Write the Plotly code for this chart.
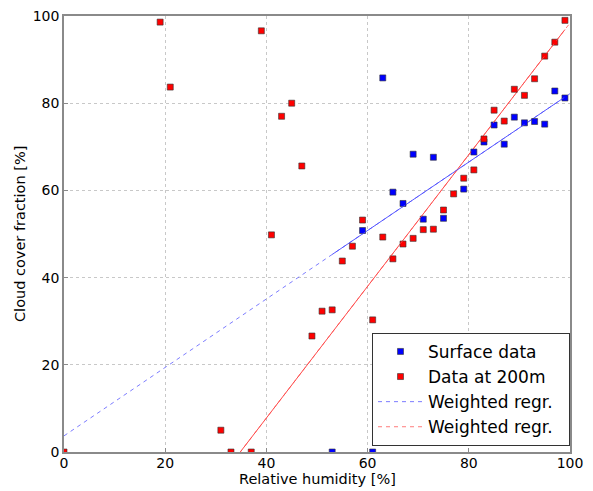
import plotly.graph_objects as go

# Surface data
surf_x = [53, 59, 61, 63, 65, 67, 69, 71, 73, 75, 79, 81, 83, 85, 87, 89, 91, 93, 95, 97, 99]
surf_y = [0, 50.8, 0, 85.8, 59.6, 57.0, 68.3, 53.4, 67.6, 53.6, 60.3, 68.8, 71.1, 75.0, 70.6, 76.8, 75.5, 75.8, 75.2, 82.8, 81.2]

# Data at 200 m
h200_x = [0, 19, 21, 31, 33, 37, 39, 41, 43, 45, 47, 49, 51, 53, 55, 57, 59, 61, 63, 65, 67,
          69, 71, 73, 75, 77, 79, 81, 83, 85, 87, 89, 91, 93, 95, 97, 99]
h200_y = [0, 98.6, 83.7, 5.0, 0, 0, 96.6, 49.8, 77.0, 80.0, 65.6, 26.6, 32.3, 32.6, 43.8, 47.2, 53.2, 30.3, 49.3, 44.3, 47.7,
          49.0, 51.0, 51.1, 55.5, 59.2, 62.8, 64.7, 71.8, 78.4, 75.9, 83.2, 81.8, 85.6, 90.8, 94.0, 99.0]

# Weighted regression fits (slope, intercept)
surf_fit = (0.785, 3.7)
h200_fit = (1.51, -52.6)

x_ticks = [0, 20, 40, 60, 80, 100]
y_ticks = [0, 20, 40, 60, 80, 100]

FONT = "DejaVu Sans"
PAD = "\u00a0\u00a0"


def line(fit, xs):
    return [fit[0] * v + fit[1] for v in xs]


fig = go.Figure()

full = [0, 100]
surf_rng = [min(surf_x), max(surf_x)]
h200_rng = [min(h200_x), max(h200_x)]

# solid segments over data range (no legend)
fig.add_trace(go.Scatter(x=surf_rng, y=line(surf_fit, surf_rng), mode="lines",
                         line=dict(color="rgba(60,60,255,0.85)", width=1), showlegend=False, hoverinfo="skip"))
fig.add_trace(go.Scatter(x=h200_rng, y=line(h200_fit, h200_rng), mode="lines",
                         line=dict(color="rgba(255,40,40,0.85)", width=1), showlegend=False, hoverinfo="skip"))

fig.add_trace(go.Scatter(x=surf_x, y=surf_y, mode="markers", name="Surface data" + PAD,
                         marker=dict(symbol="square", size=6, color="#0000ff",
                                     line=dict(color="#333333", width=0.6))))
fig.add_trace(go.Scatter(x=h200_x, y=h200_y, mode="markers", name="Data at 200m" + PAD,
                         marker=dict(symbol="square", size=6, color="#ff0000",
                                     line=dict(color="#333333", width=0.6))))
fig.add_trace(go.Scatter(x=full, y=line(surf_fit, full), mode="lines", name="Weighted regr." + PAD,
                         line=dict(color="rgba(80,80,255,0.75)", width=1, dash="4px,4px")))
fig.add_trace(go.Scatter(x=full, y=line(h200_fit, full), mode="lines", name="Weighted regr." + PAD,
                         line=dict(color="rgba(255,80,80,0.75)", width=1, dash="4px,4px")))

axis_common = dict(
    showline=True, mirror=True, linecolor="#8a8a8a", linewidth=1.5,
    ticks="inside", ticklen=4, tickcolor="#8a8a8a",
    showgrid=True, gridcolor="#c8c8c8", griddash="dot", gridwidth=1,
    zeroline=False, tickfont=dict(family=FONT, size=14, color="#000"),
    automargin=False, ticklabeloverflow="allow",
)

fig.update_xaxes(range=[0, 100], tickvals=x_ticks, ticktext=[str(t) for t in x_ticks],
                 ticklabelstandoff=-3, **axis_common)
fig.update_yaxes(range=[0, 100], tickvals=y_ticks, ticktext=[str(t) for t in y_ticks],
                 **axis_common)

title_font = dict(family=FONT, size=14.5, color="#000")
fig.add_annotation(text="Relative humidity [%]", xref="paper", yref="paper", x=0.5, y=0,
                   xanchor="center", yanchor="middle", yshift=-27, showarrow=False, font=title_font)
fig.add_annotation(text="Cloud cover fraction [%]", xref="paper", yref="paper", x=0, y=0.5,
                   xanchor="center", yanchor="middle", xshift=-44, textangle=-90, showarrow=False, font=title_font)

# page body has an 8px margin; compensate so the plot area lands at the reference position
fig.update_layout(
    width=585, height=483,
    margin=dict(l=56, r=23, t=8, b=39),
    plot_bgcolor="white", paper_bgcolor="white",
    font=dict(family=FONT, size=14, color="#000"),
    legend=dict(x=1.0, y=0.014, xanchor="right", yanchor="bottom",
                bgcolor="white", bordercolor="#333333", borderwidth=1,
                font=dict(family=FONT, size=17, color="#000"),
                tracegroupgap=0, itemwidth=45),
)

fig.write_html("out.html")
